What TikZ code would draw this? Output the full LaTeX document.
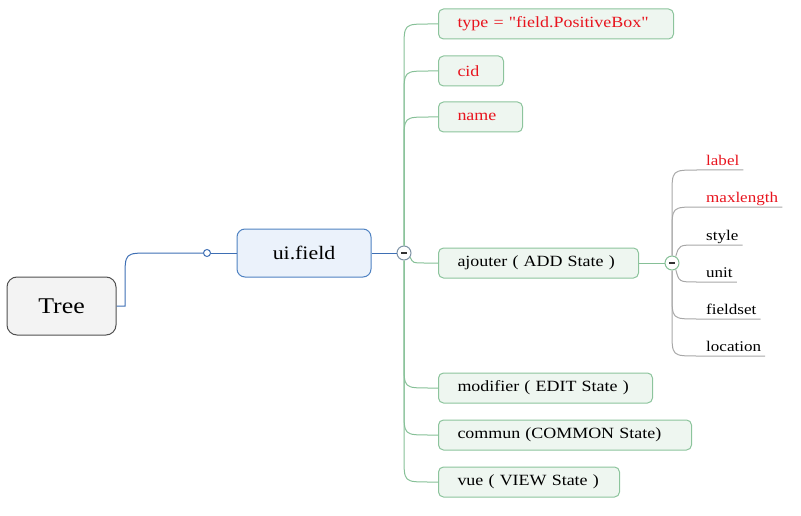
\documentclass[tikz,border=0pt]{standalone}
\usepackage{fontspec}
\setmainfont[FakeStretch=1.15]{Liberation Serif}
\newfontfamily\qfont[FakeStretch=1.15]{Liberation Serif}
\definecolor{gline}{HTML}{86C097}
\definecolor{gbord}{HTML}{8CC49C}
\definecolor{gfill}{HTML}{EEF6F0}
\definecolor{bline}{HTML}{3E6FB4}
\definecolor{bfill}{HTML}{EBF2FB}
\definecolor{bbord}{HTML}{4F82C2}
\definecolor{tfill}{HTML}{F3F3F3}
\definecolor{tbord}{HTML}{505050}
\definecolor{sline}{HTML}{A8A8A8}
\definecolor{redtxt}{HTML}{E8141E}
\definecolor{minusbord}{HTML}{7F93A6}
\begin{document}
\begin{tikzpicture}[x=1pt,y=-1pt,
  leaf/.style={draw=gbord, fill=gfill, rounded corners=5pt, line width=1pt,
    minimum height=30pt, inner xsep=19pt, inner ysep=0pt, anchor=west,
    text width=#1-38pt, align=left, font=\fontsize{15.6}{18}\selectfont, text=black},
  redt/.style={text=redtxt},
  subitem/.style={anchor=south west, inner xsep=4pt, inner ysep=2.5pt,
    text height=1.5ex, text depth=0.45ex, font=\fontsize{14.8}{16}\selectfont, text=black},
  gconn/.style={draw=gline, line width=1pt},
  sconn/.style={draw=sline, line width=1pt},
  bconn/.style={draw=bline, line width=1pt},
  minus/.style={circle, draw=#1, fill=white, line width=1pt, minimum size=14pt, inner sep=0pt,
    path picture={\draw[line width=1.3pt, black!80] ([xshift=-3pt]path picture bounding box.center) -- ([xshift=3pt]path picture bounding box.center);}}
]
\useasboundingbox (0,0) rectangle (801,516);

% root and main topic
\node[draw=tbord, fill=tfill, rounded corners=10pt, line width=1pt,
  minimum width=109pt, minimum height=58pt, font=\fontsize{22.5}{24}\selectfont] (tree) at (61.5,306) {Tree};
\node[draw=bbord, fill=bfill, rounded corners=8pt, line width=1pt,
  minimum width=134pt, minimum height=48pt, font=\fontsize{19}{20}\selectfont] (ui) at (304,253) {ui.field};
\node[circle, draw=bline, fill=white, line width=1pt, minimum size=7pt, inner sep=0pt] (dot) at (207,253) {};
\node[minus=minusbord] (m1) at (404,253) {};

\draw[bconn] (tree.east) -- (125,306) -- (125,278) .. controls (125,253) .. (150,253) -- (dot.west);
\draw[bconn] (dot.east) -- (ui.west);
\draw[bconn] (ui.east) -- (m1.west);

% children
\node[leaf=235pt, redt] (b1) at (438,24) {\mbox{type = {\qfont"}field.PositiveBox{\qfont"}}};
\node[leaf=65pt, redt] (b2) at (438,71) {\mbox{cid}};
\node[leaf=84pt, redt] (b3) at (438,117) {\mbox{name}};
\node[leaf=200pt] (b4) at (438,263) {\mbox{ajouter ( ADD State )}};
\node[leaf=214pt] (b5) at (438,388) {\mbox{modifier ( EDIT State )}};
\node[leaf=253pt] (b6) at (438,435) {\mbox{commun (COMMON State)}};
\node[leaf=181pt] (b7) at (438,482) {\mbox{vue ( VIEW State )}};

\draw[gconn] (m1.north) -- (404,49) .. controls (404,24) .. (429,24) -- (b1.west);
\draw[gconn] (m1.north) -- (404,96) .. controls (404,71) .. (429,71) -- (b2.west);
\draw[gconn] (m1.north) -- (404,142) .. controls (404,117) .. (429,117) -- (b3.west);
\draw[gconn] (m1.-35) .. controls (413,263) .. (424,263) -- (b4.west);
\draw[gconn] (m1.south) -- (404,363) .. controls (404,388) .. (429,388) -- (b5.west);
\draw[gconn] (m1.south) -- (404,410) .. controls (404,435) .. (429,435) -- (b6.west);
\draw[gconn] (m1.south) -- (404,457) .. controls (404,482) .. (429,482) -- (b7.west);

% ajouter sub items
\node[minus=gline] (m2) at (672,263) {};
\draw[gconn] (b4.east) -- (m2.west);

\node[subitem, text=redtxt] (s1) at (702,170) {label};
\node[subitem, text=redtxt] (s2) at (702,207) {maxlength};
\node[subitem] (s3) at (702,245) {style};
\node[subitem] (s4) at (702,282) {unit};
\node[subitem] (s5) at (702,319) {fieldset};
\node[subitem] (s6) at (702,356) {location};

\draw[sconn] (m2.north) -- (672,195) .. controls (672,170) .. (697,170) -- (s1.south east);
\draw[sconn] (m2.north) -- (672,232) .. controls (672,207) .. (697,207) -- (s2.south east);
\draw[sconn] (m2.60) .. controls (679,245) .. (697,245) -- (s3.south east);
\draw[sconn] (m2.-60) .. controls (679,282) .. (697,282) -- (s4.south east);
\draw[sconn] (m2.south) -- (672,294) .. controls (672,319) .. (697,319) -- (s5.south east);
\draw[sconn] (m2.south) -- (672,331) .. controls (672,356) .. (697,356) -- (s6.south east);
\end{tikzpicture}
\end{document}
